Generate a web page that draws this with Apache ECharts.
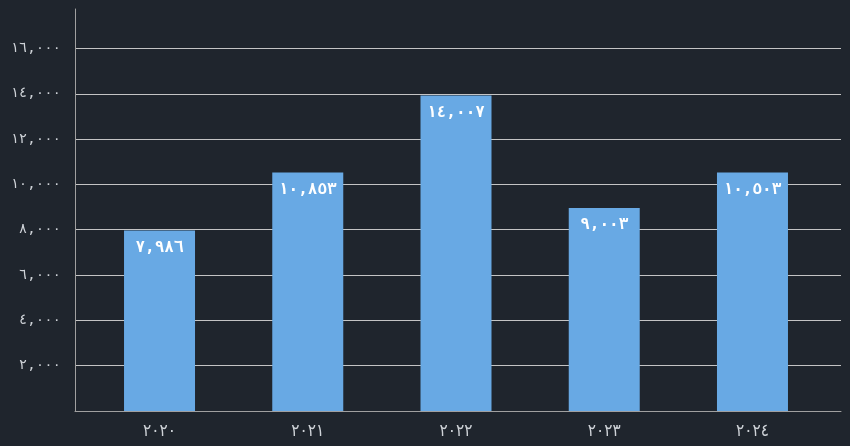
<!DOCTYPE html>
<html>
<head>
<meta charset="utf-8">
<script src="https://cdn.jsdelivr.net/npm/echarts@6/dist/echarts.min.js"></script>
<style>
html,body{margin:0;padding:0;background:#1f252d;}
#c{width:850px;height:446px;}
</style>
</head>
<body>
<div id="c"></div>
<script>
const categories = [2020, 2021, 2022, 2023, 2024];
const barValues = [7960, 10530, 13920, 8960, 10530];
const labelValues = [7986, 10853, 14007, 9003, 10503];
const yTicks = [0, 2000, 4000, 6000, 8000, 10000, 12000, 14000, 16000];
const yMax = 17740;

const AR = ['٠','١','٢','٣','٤','٥','٦','٧','٨','٩'];
function toArabic(n, sep) {
  let s = String(n);
  if (sep) s = s.replace(/\B(?=(\d{3})+(?!\d))/g, ',');
  return s.replace(/\d/g, d => AR[+d]);
}

const chart = echarts.init(document.getElementById('c'), null, {renderer: 'canvas'});
const FONT = 'DejaVu Sans Mono';
chart.setOption({
  backgroundColor: '#1f252d',
  animation: false,
  grid: [
    {left: 75, right: 9, top: 9, bottom: 35},
    {left: 85.4, right: 23.4, top: 9, bottom: 35}
  ],
  xAxis: [
    {gridIndex: 0, type: 'value', min: 0, max: 1, show: true,
     axisLine: {show: true, lineStyle: {color: '#a0a0a0', width: 1}},
     axisTick: {show: false}, axisLabel: {show: false}, splitLine: {show: false}},
    {gridIndex: 1, type: 'category', data: categories.map(c => toArabic(c, false)),
     axisLine: {show: false}, axisTick: {show: false},
     axisLabel: {color: '#cfd3d8', fontFamily: 'DejaVu Sans Condensed, DejaVu Sans Mono', fontSize: 17, margin: 12}}
  ],
  yAxis: [
    {gridIndex: 0, type: 'value', min: 0, max: yMax, interval: 2000,
     axisLine: {show: true, lineStyle: {color: '#a0a0a0', width: 1}},
     axisTick: {show: false},
     axisLabel: {color: '#cfd3d8', fontFamily: FONT, fontSize: 14, margin: 14, showMaxLabel: false,
       formatter: v => (yTicks.includes(v) && v > 0) ? toArabic(v, true) : ''},
     splitLine: {show: true, showMinLine: false, showMaxLine: false, lineStyle: {color: '#c4c4c4', width: 1}}},
    {gridIndex: 1, type: 'value', min: 0, max: yMax, show: false, splitLine: {show: false}}
  ],
  series: [{
    type: 'bar',
    xAxisIndex: 1, yAxisIndex: 1,
    data: barValues,
    barWidth: 71,
    itemStyle: {color: '#68a9e4'},
    label: {
      show: true, position: 'insideTop', distance: 9,
      color: '#ffffff', fontFamily: FONT, fontWeight: 'bold', fontSize: 16,
      formatter: p => toArabic(labelValues[p.dataIndex], true)
    }
  }]
});
</script>
</body>
</html>
